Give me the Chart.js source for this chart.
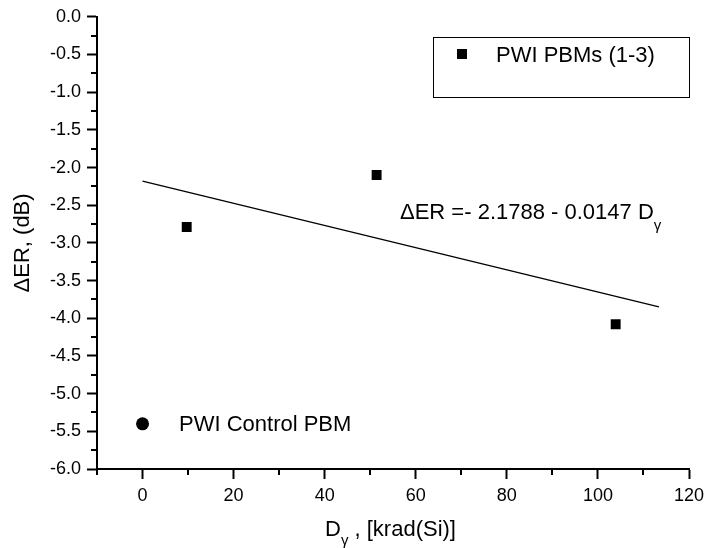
<!DOCTYPE html>
<html>
<head>
<meta charset="utf-8">
<script src="https://cdn.jsdelivr.net/npm/chart.js@4/dist/chart.umd.min.js"></script>
<style>
  html, body { margin: 0; padding: 0; background: #fff; }
  #wrap { width: 704px; height: 548px; }
</style>
</head>
<body>
<div id="wrap"><canvas id="plot"></canvas></div>
<script>
// measured points (dose in krad(Si), delta ER in dB)
const doseValues = [9.7, 51.4, 103.9];
const erValues = [-2.79, -2.10, -4.08];
// ends of the fitted line
const fitDose = [0, 113.4];
const fitEr = [-2.18, -3.85];
// control sample marker
const controlDose = [0];
const controlEr = [-5.4];

const xTicks = [0, 20, 40, 60, 80, 100, 120];
const yTicks = [0, -0.5, -1, -1.5, -2, -2.5, -3, -3.5, -4, -4.5, -5, -5.5, -6];
const xMinor = [-10, 10, 30, 50, 70, 90, 110];
const yMinor = [-0.25, -0.75, -1.25, -1.75, -2.25, -2.75, -3.25, -3.75, -4.25, -4.75, -5.25, -5.75];

const FONT = '"Liberation Sans", Arial, sans-serif';

// minor ticks, titles, equation and legend
const extras = {
    id: 'extras',
    afterDraw(chart) {
        const ctx = chart.ctx;
        const xs = chart.scales.x, ys = chart.scales.y;
        const area = chart.chartArea;
        ctx.save();
        ctx.strokeStyle = '#000';
        ctx.lineWidth = 2;
        xMinor.forEach(v => {
            const px = Math.round(xs.getPixelForValue(v));
            ctx.beginPath();
            ctx.moveTo(px, area.bottom);
            ctx.lineTo(px, area.bottom + 6);
            ctx.stroke();
        });
        yMinor.forEach(v => {
            const py = Math.round(ys.getPixelForValue(v));
            ctx.beginPath();
            ctx.moveTo(area.left, py);
            ctx.lineTo(area.left - 6, py);
            ctx.stroke();
        });

        ctx.fillStyle = '#000';
        ctx.textBaseline = 'alphabetic';

        // y title
        ctx.save();
        ctx.translate(29, (area.top + area.bottom) / 2);
        ctx.rotate(-Math.PI / 2);
        ctx.font = '22px ' + FONT;
        ctx.textAlign = 'center';
        ctx.fillText('\u0394ER, (dB)', 0, 0);
        ctx.restore();

        // x title with subscript
        ctx.textAlign = 'left';
        let x = 325;
        ctx.font = '22px ' + FONT;
        ctx.fillText('D', x, 536);
        x += ctx.measureText('D').width;
        ctx.font = '15px ' + FONT;
        ctx.fillText('\u03b3', x, 545);
        x += ctx.measureText('\u03b3').width;
        ctx.font = '22px ' + FONT;
        ctx.fillText(' , [krad(Si)]', x, 536);

        // fit equation
        x = 400;
        ctx.font = '22px ' + FONT;
        const eq = '\u0394ER =- 2.1788 - 0.0147 D';
        ctx.fillText(eq, x, 219);
        x += ctx.measureText(eq).width;
        ctx.font = '15px ' + FONT;
        ctx.fillText('\u03b3', x, 230);

        // legend box
        ctx.lineWidth = 1;
        ctx.strokeRect(433.5, 37.5, 256, 60);
        ctx.fillRect(457, 49, 10, 10);
        ctx.font = '22px ' + FONT;
        ctx.fillText('PWI PBMs (1-3)', 496, 62);

        // control label
        ctx.fillText('PWI Control PBM', 179, 431);
        ctx.restore();
    }
};

const ctx = document.getElementById('plot').getContext('2d');
const chart = new Chart(ctx, {
    type: 'scatter',
    data: {
        datasets: [
            {
                label: 'PWI PBMs (1-3)',
                data: doseValues.map((d, i) => ({ x: d, y: erValues[i] })),
                pointStyle: 'rect',
                pointRadius: 7,
                pointBorderWidth: 0,
                backgroundColor: '#000',
                borderColor: '#000'
            },
            {
                label: 'fit',
                type: 'line',
                data: fitDose.map((d, i) => ({ x: d, y: fitEr[i] })),
                showLine: true,
                pointRadius: 0,
                borderWidth: 1.3,
                borderColor: '#000',
                fill: false
            },
            {
                label: 'PWI Control PBM',
                data: controlDose.map((d, i) => ({ x: d, y: controlEr[i] })),
                pointStyle: 'circle',
                pointRadius: 6.5,
                pointBorderWidth: 0,
                backgroundColor: '#000',
                borderColor: '#000'
            }
        ]
    },
    options: {
        responsive: true,
        maintainAspectRatio: false,
        animation: false,
        events: [],
        layout: { padding: { top: 12, right: 0, left: 0, bottom: 0 } },
        plugins: {
            legend: { display: false },
            tooltip: { enabled: false }
        },
        scales: {
            x: {
                type: 'linear',
                min: -10,
                max: 120,
                afterBuildTicks: s => { s.ticks = xTicks.map(v => ({ value: v })); },
                afterFit: s => { s.height = 79; s.paddingRight = 15; },
                ticks: {
                    color: '#000',
                    font: { size: 18, family: FONT },
                    padding: 6,
                    maxRotation: 0,
                    callback: v => String(v)
                },
                grid: {
                    display: true,
                    drawOnChartArea: false,
                    drawTicks: true,
                    tickLength: 10,
                    tickWidth: 2,
                    tickColor: '#000'
                },
                border: { display: true, color: '#000', width: 2 }
            },
            y: {
                type: 'linear',
                min: -6,
                max: 0,
                afterBuildTicks: s => { s.ticks = yTicks.map(v => ({ value: v })); },
                afterFit: s => { s.width = 97; },
                ticks: {
                    color: '#000',
                    font: { size: 18, family: FONT },
                    padding: 6,
                    callback: v => Number(v).toFixed(1)
                },
                grid: {
                    display: true,
                    drawOnChartArea: false,
                    drawTicks: true,
                    tickLength: 10,
                    tickWidth: 2,
                    tickColor: '#000'
                },
                border: { display: true, color: '#000', width: 2 }
            }
        }
    },
    plugins: [extras]
});
</script>
</body>
</html>
